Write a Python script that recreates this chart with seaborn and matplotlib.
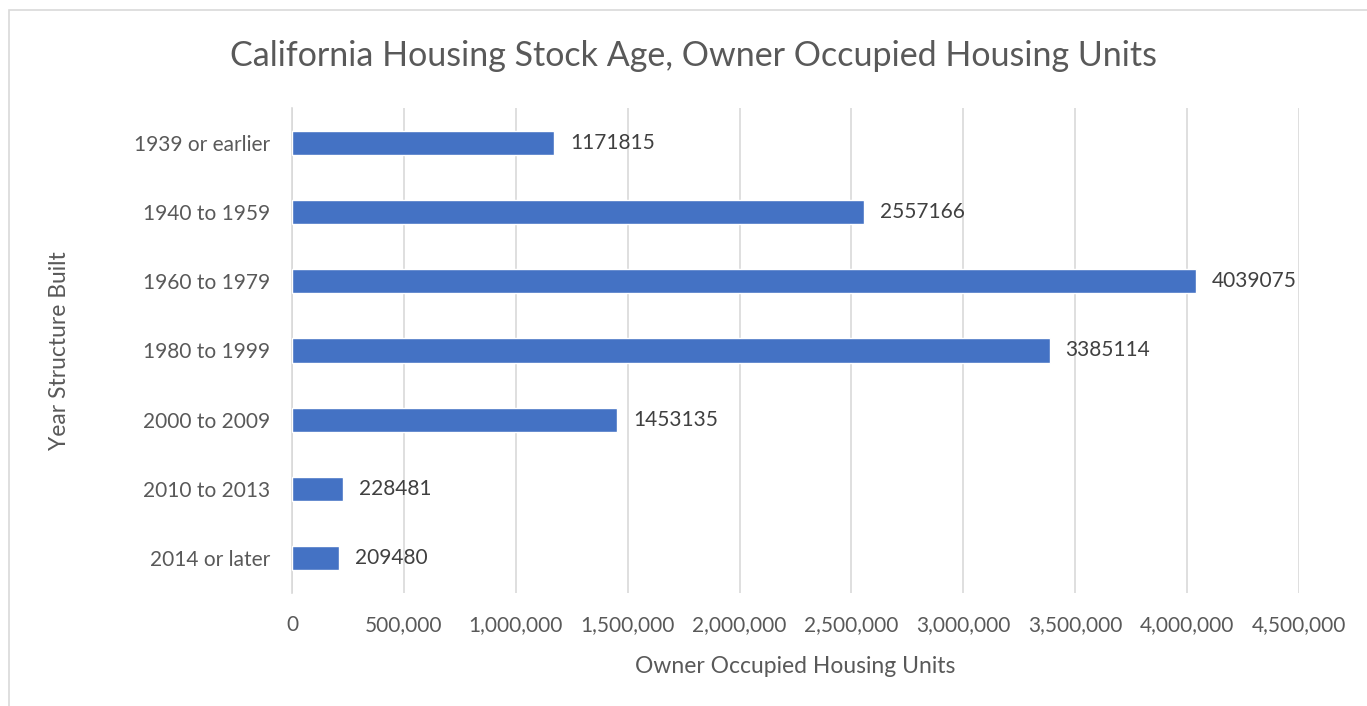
import pandas as pd
import matplotlib.pyplot as plt
import seaborn as sns
from matplotlib.patches import Rectangle
from matplotlib.ticker import FuncFormatter

# Categories and values
YEAR_BUILT = [
    "1939 or earlier",
    "1940 to 1959",
    "1960 to 1979",
    "1980 to 1999",
    "2000 to 2009",
    "2010 to 2013",
    "2014 or later",
]
UNITS = [1171815, 2557166, 4039075, 3385114, 1453135, 228481, 209480]

TEXT_COLOR = "#595959"
GRID_COLOR = "#D9D9D9"
BAR_COLOR = "#4472C4"

df = pd.DataFrame({"Year Structure Built": YEAR_BUILT,
                   "Owner Occupied Housing Units": UNITS})

sns.set_style("white")
plt.rcParams['font.family'] = ['Lato', 'DejaVu Sans']

fig = plt.figure(figsize=(13.67, 7.06), dpi=100)
ax = fig.add_axes([292 / 1367, 1 - 593 / 706, (1299 - 292) / 1367, (593 - 108) / 706])

sns.barplot(data=df, y="Year Structure Built", x="Owner Occupied Housing Units",
            color=BAR_COLOR, saturation=1, width=0.35, ax=ax, zorder=3)

# Value labels to the right of each bar
for i, v in enumerate(UNITS):
    ax.text(v + 70000, i, str(v), va='center', ha='left', fontsize=15, color="#404040")

ax.set_xlim(0, 4500000)
ax.set_xticks(range(0, 4500001, 500000))
ax.xaxis.set_major_formatter(FuncFormatter(lambda x, p: f"{int(x):,}"))
ax.grid(axis='x', color=GRID_COLOR, lw=1.2, zorder=0)
for s in ['top', 'right', 'bottom']:
    ax.spines[s].set_visible(False)
ax.spines['left'].set_color(GRID_COLOR)
ax.spines['left'].set_linewidth(1.2)
ax.tick_params(axis='both', length=0, labelsize=15, colors=TEXT_COLOR)
ax.tick_params(axis='x', pad=16)
ax.tick_params(axis='y', pad=16)

ax.set_xlabel("Owner Occupied Housing Units", fontsize=16.5, color=TEXT_COLOR, labelpad=15)
ax.set_ylabel("Year Structure Built", fontsize=16.5, color=TEXT_COLOR, labelpad=46)

fig.text((233 + 1153) / 2 / 1367, 1 - 56 / 706,
         "California Housing Stock Age, Owner Occupied Housing Units",
         ha='center', va='center', fontsize=24.5, color=TEXT_COLOR)

# Light chart-area border
fig.patches.append(Rectangle((9 / 1367, -0.01), 1.1, 1 - 10 / 706 + 0.01,
                             transform=fig.transFigure, fill=False,
                             edgecolor=GRID_COLOR, lw=1.2))

fig.savefig("out.png", dpi=100)
